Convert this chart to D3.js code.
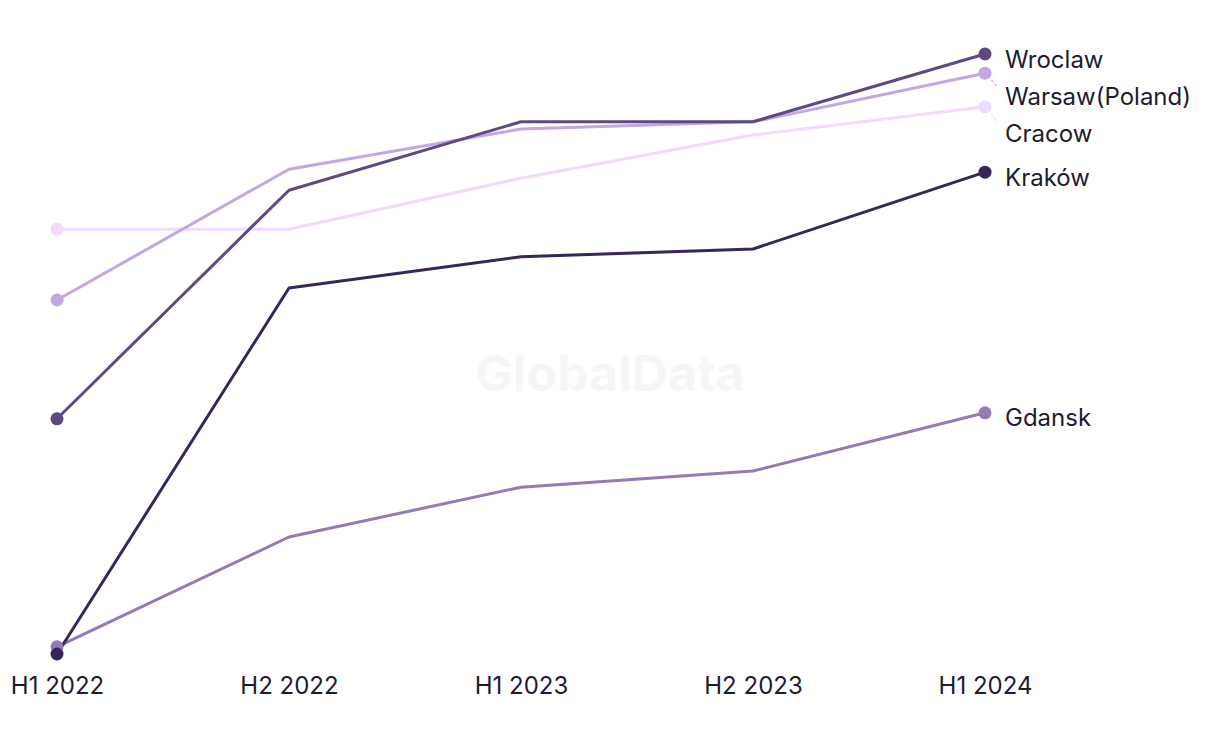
<!DOCTYPE html>
<html><head><meta charset="utf-8">
<script src="https://cdn.jsdelivr.net/npm/d3@7"></script>
<style>body{margin:0;background:#fff;}svg{display:block;}</style>
</head><body>
<svg id="chart" width="1220" height="744"></svg>
<script>
const periods = ["H1 2022","H2 2022","H1 2023","H2 2023","H1 2024"];
const wroclaw = [39.2, 77.3, 88.7, 88.7, 100];
const warsaw = [59, 80.8, 87.5, 88.7, 96.8];
const cracow = [70.8, 70.8, 79.3, 86.5, 91.2];
const krakow = [0, 61, 66.2, 67.5, 80.3];
const gdansk = [1.2, 19.5, 27.8, 30.5, 40.2];
const seriesNames = ["Gdansk","Kraków","Cracow","Warsaw(Poland)","Wroclaw"];
const seriesColors = ["#957ab8","#38265a","#f1dafc","#c2a7e4","#5e4a80"];
const seriesValues = [gdansk, krakow, cracow, warsaw, wroclaw];

const svg = d3.select("#chart");
const x = d3.scalePoint().domain(periods).range([57, 985]);
const y = d3.scaleLinear().domain([0, 100]).range([654, 54]);
const font = "Inter, 'Noto Sans', sans-serif";
const textColor = "#1e1b32";

svg.append("text").attr("x", 610).attr("y", 373).attr("text-anchor","middle")
  .attr("dominant-baseline","central").attr("font-family", font).attr("font-weight", 700)
  .attr("font-size", 50).attr("fill", "#f6f6f6").text("GlobalData");

const series = seriesNames.map((n,i)=>({name:n,color:seriesColors[i],values:seriesValues[i]}));
const line = d3.line().x((d,i)=>x(periods[i])).y(d=>y(d));

series.forEach(s=>{
  svg.append("path").attr("d", line(s.values)).attr("fill","none")
    .attr("stroke", s.color).attr("stroke-width", 3).attr("stroke-linejoin","round");
});
series.forEach(s=>{
  svg.append("circle").attr("cx", x(periods[0])).attr("cy", y(s.values[0])).attr("r", 6.5).attr("fill", s.color);
  svg.append("circle").attr("cx", x(periods[4])).attr("cy", y(s.values[4])).attr("r", 6.5).attr("fill", s.color);
});

// labels with collision avoidance
const lab = series.map(s=>({s, y0: y(s.values[4])})).sort((a,b)=>a.y0-b.y0);
let prev = -Infinity;
lab.forEach(l=>{ l.y = Math.max(l.y0, prev + 37); prev = l.y; });
lab.forEach(l=>{
  if (l.y - l.y0 > 3) {
    svg.append("line").attr("x1", x(periods[4])+3).attr("y1", l.y0+3)
      .attr("x2", x(periods[4])+13).attr("y2", l.y0 + (l.y-l.y0)*0.8)
      .attr("stroke", l.s.color).attr("stroke-width", 1.2).attr("stroke-dasharray","3,2");
  }
  svg.append("text").attr("x", 1005).attr("y", l.y + 5).attr("dominant-baseline","central")
    .attr("font-family", font).attr("font-size", 24).attr("fill", textColor).text(l.s.name);
});

const ax = svg.append("g").attr("transform","translate(0,685)")
  .call(d3.axisBottom(x).tickSize(0).tickPadding(0));
ax.select(".domain").remove();
ax.selectAll("text").attr("font-family", font).attr("font-size", 24).attr("fill", textColor)
  .attr("dy", null).attr("dominant-baseline","central");
</script>
</body></html>
